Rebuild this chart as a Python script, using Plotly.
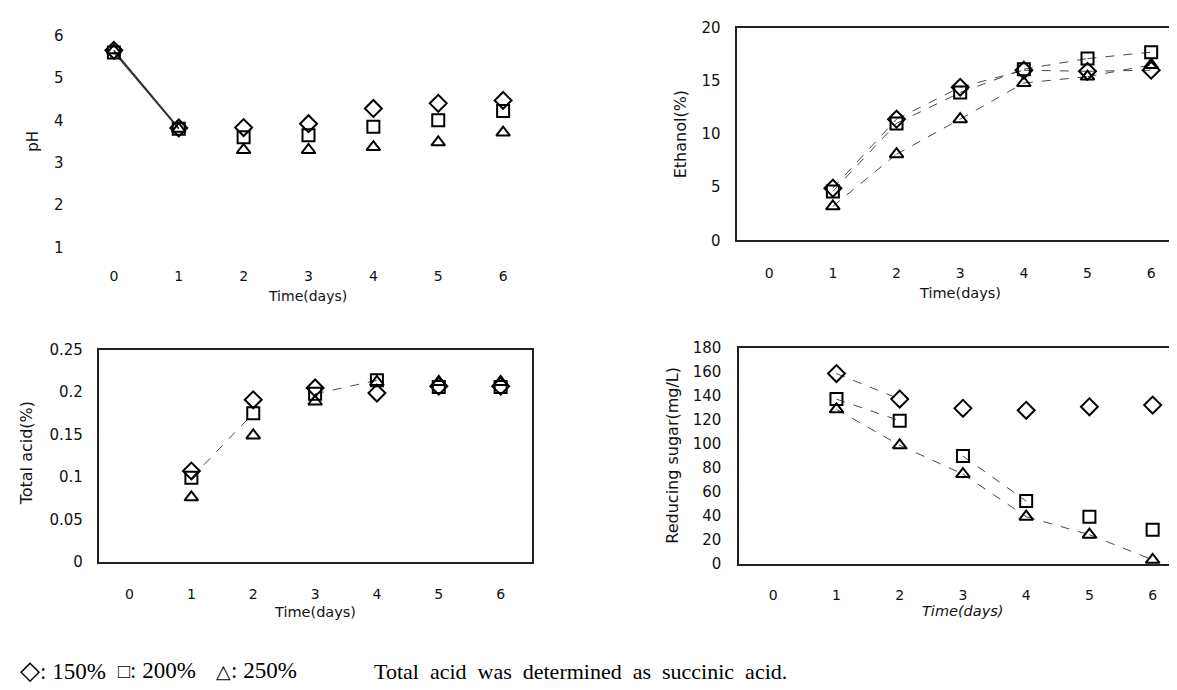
import plotly.graph_objects as go

# ---------------- data ----------------
days_ph = [0, 1, 2, 3, 4, 5, 6]
days = [1, 2, 3, 4, 5, 6]
x_ticks = [0, 1, 2, 3, 4, 5, 6]

ph_150 = [5.65, 3.82, 3.83, 3.92, 4.28, 4.40, 4.47]
ph_200 = [5.60, 3.80, 3.60, 3.65, 3.85, 4.00, 4.22]
ph_250 = [5.65, 3.80, 3.30, 3.30, 3.37, 3.48, 3.71]

eth_150 = [4.9, 11.4, 14.4, 16.0, 15.9, 16.0]
eth_200 = [4.6, 11.0, 13.9, 16.1, 17.1, 17.7]
eth_250 = [3.2, 8.1, 11.4, 14.8, 15.4, 16.5]

acid_150 = [0.107, 0.191, 0.205, 0.199, 0.207, 0.207]
acid_200 = [0.099, 0.175, 0.198, 0.214, 0.206, 0.206]
acid_250 = [0.076, 0.149, 0.189, 0.212, 0.212, 0.212]

sugar_150 = [158.8, 137.5, 129.8, 128.2, 131.1, 132.5]
sugar_200 = [137.5, 119.5, 90.0, 52.5, 39.5, 28.5]
sugar_250 = [129.0, 99.0, 75.0, 39.5, 24.5, 3.5]

series_names = ["150%", "200%", "250%"]

# ---------------- styling ----------------
W, H = 1177, 690
FONT = "DejaVu Sans"
TXT = "#111111"
symbols = ["diamond-open", "square-open", "triangle-up-open"]
msizes = [13, 12, 12]


def fx(p):
    return p / W


def fy(p):
    return 1 - p / H


def seg_xy(xs, ys, segs):
    lx, ly = [], []
    for i in segs:
        lx += [xs[i], xs[i + 1], None]
        ly += [ys[i], ys[i + 1], None]
    return lx, ly


fig = go.Figure()

panels = [
    dict(ax="", x=days_ph, ys=[ph_150, ph_200, ph_250],
         xdom=(73.5, 528), ydom=(10.3, 245.4), xr=[-0.5, 6.5], yr=[0.8, 6.2],
         ytv=[1, 2, 3, 4, 5, 6], ytt=None, frame=False, xso=10, yso=17,
         segs=[[0], [0], [0]], dash="solid", lw=1.2),
    dict(ax="2", x=days, ys=[eth_150, eth_200, eth_250],
         xdom=(730, 1176), ydom=(11, 229.3), xr=[-0.5, 6.5], yr=[0, 20],
         ytv=[0, 5, 10, 15, 20], ytt=None, frame=True, xso=19, yso=12,
         segs=[[0, 1, 2, 3, 4]] * 3, dash="dash", lw=0.9),
    dict(ax="3", x=days, ys=[acid_150, acid_200, acid_250],
         xdom=(90.7, 524), ydom=(341.7, 559.3), xr=[-0.5, 6.5], yr=[0, 0.25],
         ytv=[0, 0.05, 0.1, 0.15, 0.2, 0.25],
         ytt=["0", "0.05", "0.1", "0.15", "0.2", "0.25"], frame=True, xso=19, yso=11,
         segs=[[], [0, 2], []], dash="dash", lw=0.9),
    dict(ax="4", x=days, ys=[sugar_150, sugar_200, sugar_250],
         xdom=(731.7, 1176), ydom=(340, 561.7), xr=[-0.54, 6.48], yr=[0, 180],
         ytv=[0, 20, 40, 60, 80, 100, 120, 140, 160, 180], ytt=None, frame=True,
         xso=17, yso=13,
         segs=[[0], [0, 2], [0, 1, 2, 3, 4]], dash="dash", lw=0.9),
]

for p in panels:
    xa = "x" + p["ax"]
    ya = "y" + p["ax"]
    for k in range(3):
        lx, ly = seg_xy(p["x"], p["ys"][k], p["segs"][k])
        if lx:
            fig.add_trace(go.Scatter(
                x=lx, y=ly, mode="lines", xaxis=xa, yaxis=ya, showlegend=False,
                line=dict(color="#333333", width=p["lw"], dash=p["dash"]),
                hoverinfo="skip"))
    for k in range(3):
        fig.add_trace(go.Scatter(
            x=p["x"], y=p["ys"][k], mode="markers", xaxis=xa, yaxis=ya,
            name=series_names[k], showlegend=False, cliponaxis=False,
            marker=dict(symbol=symbols[k], size=msizes[k], color="black",
                        line=dict(color="black", width=2))))

    xkey = "xaxis" + p["ax"]
    ykey = "yaxis" + p["ax"]
    xaxis = dict(domain=[fx(p["xdom"][0]), fx(p["xdom"][1])], range=p["xr"],
                 anchor=ya, tickvals=x_ticks, ticks="", showgrid=False,
                 zeroline=False, showline=p["frame"], mirror=p["frame"],
                 linecolor="#222222", linewidth=1.5,
                 ticklabelstandoff=p["xso"],
                 tickfont=dict(family=FONT, size=14, color=TXT))
    yaxis = dict(domain=[fy(p["ydom"][1]), fy(p["ydom"][0])], range=p["yr"],
                 anchor=xa, tickvals=p["ytv"], ticks="", showgrid=False,
                 zeroline=False, showline=p["frame"], mirror=p["frame"],
                 linecolor="#222222", linewidth=1.5,
                 ticklabelstandoff=p["yso"],
                 tickfont=dict(family=FONT, size=15, color=TXT))
    if p["ytt"] is not None:
        yaxis["ticktext"] = p["ytt"]
    fig.layout[xkey] = xaxis
    fig.layout[ykey] = yaxis

# ---------------- axis titles as annotations ----------------
titles = [
    ("pH", 25, 127, -90, 15, False),
    ("Time(days)", 300, 286, 0, 14, False),
    ("Ethanol(%)", 673, 120, -90, 16, False),
    ("Time(days)", 953, 283, 0, 14.5, False),
    ("Total acid(%)", 18, 448, -90, 16, False),
    ("Time(days)", 307, 611, 0, 14.5, False),
    ("Reducing sugar(mg/L)", 665, 450, -90, 16, False),
    ("Time(days)", 955, 610, 0, 14.5, True),
]
for t, x, y, ang, sz, it in titles:
    fig.add_annotation(
        text=("<i>%s</i>" % t) if it else t, x=fx(x), y=fy(y), xref="paper",
        yref="paper", showarrow=False, textangle=ang, xanchor="center",
        yanchor="middle", font=dict(family=FONT, size=sz, color=TXT))

# ---------------- caption ----------------
legend_items = [
    ("<span style='font-size:26px'>◇</span>: 150%", 10),
    ("<span style='font-size:20px'>□</span>: 200%", 108),
    ("<span style='font-size:19px'>△</span>: 250%", 206),
]
for txt, x in legend_items:
    fig.add_annotation(
        text=txt, x=fx(x), y=fy(671), xref="paper", yref="paper",
        showarrow=False, xanchor="left", yanchor="middle",
        font=dict(family="Liberation Serif", size=23, color="black"))
fig.add_annotation(
    text=("Total&nbsp; acid&nbsp; was&nbsp; determined&nbsp; as&nbsp; "
          "succinic&nbsp; acid."),
    x=fx(364), y=fy(672), xref="paper", yref="paper", showarrow=False,
    xanchor="left", yanchor="middle",
    font=dict(family="Liberation Serif", size=22, color="black"))

fig.update_layout(
    width=W, height=H, margin=dict(l=0, r=0, t=0, b=0),
    paper_bgcolor="white", plot_bgcolor="white", showlegend=False,
)

fig.write_html("out.html")
